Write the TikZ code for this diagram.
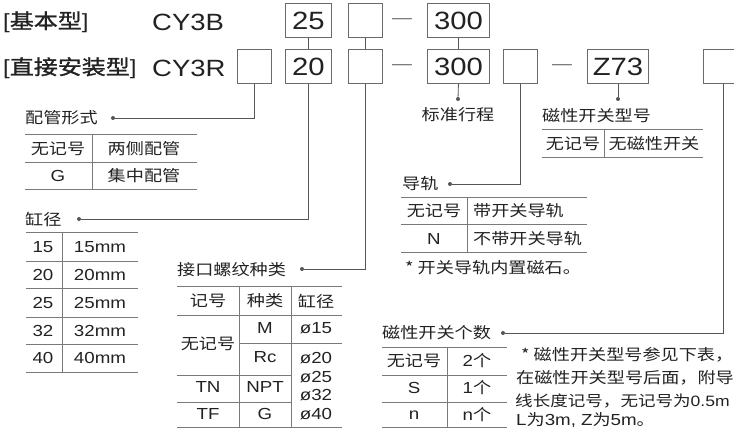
\documentclass[tikz,border=0pt]{standalone}
\usepackage{fontspec}
\newfontfamily\cjkfont{Noto Sans CJK SC}[FakeStretch=1.17]
\newfontfamily\cjkhead{Noto Sans CJK SC}[FakeStretch=1.17, FakeBold=1.2]
\newfontfamily\latfont{Liberation Sans}[FakeStretch=1.17]
\definecolor{txt}{HTML}{222222}
\definecolor{boxc}{HTML}{6A6A6A}
\definecolor{linec}{HTML}{555555}
\definecolor{rulec}{HTML}{7A7A7A}
\newcommand\ens[1]{{\latfont\fontsize{16}{18}\selectfont #1}}
\newcommand\brk[1]{{\latfont #1}}
\tikzset{
  lbl/.style={font=\cjkfont\fontsize{15.5}{18}\selectfont, text=txt, inner sep=0pt},
  lat/.style={font=\latfont\fontsize{16}{18}\selectfont, text=txt, inner sep=0pt},
  hdr/.style={font=\cjkhead\fontsize{20.5}{22}\selectfont, text=txt, inner sep=0pt, anchor=west},
  hdrl/.style={font=\latfont\fontsize{23.5}{26}\selectfont, text=txt, inner sep=0pt, anchor=west},
  codebox/.style={draw=boxc, line width=0.9pt, inner sep=0pt, anchor=north west,
    minimum height=34pt, font=\latfont\fontsize{25}{26}\selectfont, text=txt},
  dashtxt/.style={font=\latfont\fontsize{17}{18}\selectfont, text=boxc, inner sep=0pt},
  conn/.style={draw=linec, line width=0.8pt},
  rule/.style={draw=rulec, line width=0.8pt},
  dotn/.style={circle, fill=linec, inner sep=0pt, minimum size=4pt},
}
\begin{document}
\begin{tikzpicture}[x=1pt,y=-1pt]
\clip (0,0) rectangle (734,428);
\fill[white] (0,0) rectangle (734,428);
% header rows
\node[hdr] (h1) at (3,22) {\brk{[}基本型\brk{]}};
\node[hdrl] (h2) at (152,22) {CY3B};
\node[hdr] (h3) at (3,68) {\brk{[}直接安装型\brk{]}};
\node[hdrl] (h4) at (152,68) {CY3R};
% row 1 boxes
\node[codebox, minimum width=46pt] (b25) at (285,3) {25};
\node[codebox, minimum width=34pt] (b1) at (348,3) {};
\node[dashtxt] (dsh1) at (402,21) {—};
\node[codebox, minimum width=62pt] (b300) at (427,3) {300};
% row 2 boxes
\node[codebox, minimum width=34pt] (r0) at (237,49) {};
\node[codebox, minimum width=46pt] (r20) at (285,49) {20};
\node[codebox, minimum width=34pt] (r1) at (348,49) {};
\node[dashtxt] (dsh2) at (402,67) {—};
\node[codebox, minimum width=62pt] (r300) at (427,49) {300};
\node[codebox, minimum width=34pt] (r2) at (503,49) {};
\node[dashtxt] (dsh3) at (562,67) {—};
\node[codebox, minimum width=61pt] (rz) at (587,49) {Z73};
\node[codebox, minimum width=40pt] (r3) at (703,49) {};
% links between rows
\draw[conn] (b25) -- (r20);
\draw[conn] (b1) -- (r1);
\draw[conn] (b300) -- (r300);
% dots
\node[dotn] (d1) at (113,118) {};
\node[dotn] (d2) at (79,219) {};
\node[dotn] (d3) at (302,269) {};
\node[dotn] (d4) at (458,99) {};
\node[dotn] (d5) at (618,99) {};
\node[dotn] (d6) at (450,184) {};
\node[dotn] (d7) at (503,333) {};
% connectors
\draw[conn] (r0.south) |- (d1);
\draw[conn] (r20.south) |- (d2);
\draw[conn] (r1.south) |- (d3);
\draw[conn] (r300.south) -- (d4);
\draw[conn] (rz.south -| d5) -- (d5);
\draw[conn] (r2.south) |- (d6);
\draw[conn] (r3.south) |- (d7);
% labels
\node[lbl, anchor=west] (l1) at (25,118) {配管形式};
\node[lbl, anchor=west] (l2) at (25,219) {缸径};
\node[lbl, anchor=west] (l3) at (177,270) {接口螺纹种类};
\node[lbl] (l4) at (458,115) {标准行程};
\node[lbl, anchor=west] (l5) at (542,116) {磁性开关型号};
\node[lbl, anchor=west] (l6) at (402,184) {导轨};
\node[lbl, anchor=west] (l7) at (382,333) {磁性开关个数};
% table 1
\draw[rule] (25,134) -- (197,134) (25,162) -- (197,162) (25,189) -- (197,189) (92,134) -- (92,189);
\node[lbl] (t1a) at (58,149) {无记号};
\node[lbl] (t1b) at (144,149) {两侧配管};
\node[lat] (t1c) at (58,176) {G};
\node[lbl] (t1d) at (144,176) {集中配管};
% table 2
\draw[rule] (26,232) -- (138,232) (26,261) -- (138,261) (26,288) -- (138,288) (26,317) -- (138,317)
  (26,344) -- (138,344) (26,372) -- (138,372) (62,232) -- (62,372);
\node[lat] (t2a) at (43,247) {15}; \node[lat] (t2b) at (100,247) {15mm};
\node[lat] (t2c) at (43,275) {20}; \node[lat] (t2d) at (100,275) {20mm};
\node[lat] (t2e) at (43,303) {25}; \node[lat] (t2f) at (100,303) {25mm};
\node[lat] (t2g) at (43,331) {32}; \node[lat] (t2h) at (100,331) {32mm};
\node[lat] (t2i) at (43,358) {40}; \node[lat] (t2j) at (100,358) {40mm};
% table 3
\draw[rule] (177,286) -- (342,286) (177,315) -- (342,315) (239,343) -- (342,343)
  (177,375) -- (291,375) (177,402) -- (291,402) (177,427.5) -- (342,427.5)
  (239,286) -- (239,428) (291,286) -- (291,428);
\node[lbl] (t3a) at (208,301) {记号};
\node[lbl] (t3b) at (265,301) {种类};
\node[lbl] (t3c) at (316,301) {缸径};
\node[lbl] (t3d) at (208,344) {无记号};
\node[lat] (t3e) at (265,328) {M};
\node[lat] (t3f) at (265,357) {Rc};
\node[lat] (t3g) at (316,328) {ø15};
\node[lat] (t3h) at (316,358) {ø20};
\node[lat] (t3i) at (316,377) {ø25};
\node[lat] (t3j) at (316,395) {ø32};
\node[lat] (t3k) at (316,414) {ø40};
\node[lat] (t3l) at (208,387) {TN};
\node[lat] (t3m) at (265,387) {NPT};
\node[lat] (t3n) at (208,414) {TF};
\node[lat] (t3o) at (265,414) {G};
% table 4
\draw[rule] (401,197) -- (587,197) (401,224) -- (587,224) (401,252) -- (587,252) (467,197) -- (467,252);
\node[lbl] (t4a) at (434,211) {无记号};
\node[lbl, anchor=west] (t4b) at (473,211) {带开关导轨};
\node[lat] (t4c) at (434,239) {N};
\node[lbl, anchor=west] (t4d) at (473,239) {不带开关导轨};
\node[lbl, anchor=west] (n1) at (405,268) {* 开关导轨内置磁石。};
% table 5
\draw[rule] (542,129) -- (703,129) (542,157) -- (703,157) (604,129) -- (604,157);
\node[lbl] (t5a) at (573,144) {无记号};
\node[lbl] (t5b) at (654,144) {无磁性开关};
% table 6
\draw[rule] (382,347) -- (507,347) (382,375) -- (507,375) (382,402) -- (507,402) (382,427.5) -- (507,427.5) (447,347) -- (447,428);
\node[lbl] (t6a) at (414,361) {无记号};
\node[lbl] (t6b) at (477,361) {\ens{2}个};
\node[lat] (t6c) at (414,388) {S};
\node[lbl] (t6d) at (477,388) {\ens{1}个};
\node[lat] (t6e) at (414,415) {n};
\node[lbl] (t6f) at (477,415) {\ens{n}个};
% note
\node[lbl, anchor=west] (n2) at (521,355) {* 磁性开关型号参见下表，};
\node[lbl, anchor=west] (n3) at (516,378) {在磁性开关型号后面，附导};
\node[lbl, anchor=west, font=\cjkfont\fontsize{15}{18}\selectfont] (n4) at (515,401) {线长度记号，无记号为{\latfont\fontsize{15}{18}\selectfont 0.5m}};
\node[lbl, anchor=west] (n5) at (516,420) {\ens{L}为\ens{3m, Z}为\ens{5m}。};
\end{tikzpicture}
\end{document}
